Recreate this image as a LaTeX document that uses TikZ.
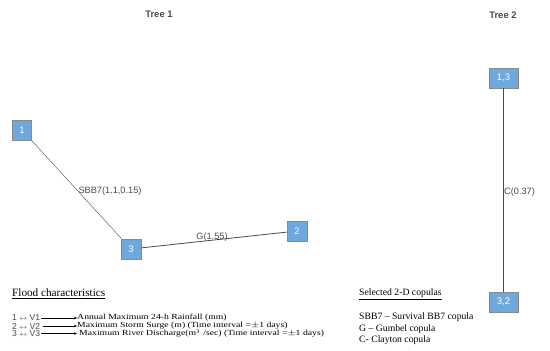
\documentclass[tikz,border=0pt]{standalone}
\usepackage{fontspec}
\setmainfont{Liberation Serif}
\setsansfont{Liberation Sans}
\usetikzlibrary{arrows.meta}
\definecolor{nodefill}{HTML}{6FA8DC}
\definecolor{nodeborder}{HTML}{8A8A8A}
\definecolor{txtgray}{HTML}{4A4A4A}
\tikzset{
  vbox/.style={draw=nodeborder, line width=0.8pt, fill=nodefill, text=white,
    font=\sffamily\fontsize{9.5}{10}\selectfont, minimum height=20pt, inner sep=0pt},
  title/.style={font=\sffamily\bfseries\fontsize{9.5}{11}\selectfont, text=txtgray},
  elabel/.style={font=\sffamily\fontsize{9.2}{10}\selectfont, text=txtgray, inner sep=1pt},
  edge/.style={draw=txtgray, line width=0.6pt},
  legtxt/.style={font=\fontsize{7.8}{8}\selectfont, anchor=west, inner sep=0pt, transform shape, xscale=1.245},
  legkey/.style={font=\sffamily\fontsize{8.6}{9}\selectfont, anchor=west, inner sep=0pt, text=txtgray},
  leghead/.style={anchor=west, inner sep=0pt},
  coptxt/.style={font=\fontsize{9.7}{10}\selectfont, anchor=west, inner sep=0pt},
  legarrow/.style={draw=black, line width=0.4pt, -{Stealth[length=3pt,width=2.5pt]}}
}
\begin{document}
\begin{tikzpicture}[x=1pt,y=-1pt]
\useasboundingbox (0,0) rectangle (550,351);
% titles
\node[title] (t1) at (159,14) {Tree 1};
\node[title] (t2) at (503,15) {Tree 2};
% tree 1 nodes
\node[vbox, minimum width=19pt] (n1) at (22,130) {1};
\node[vbox, minimum width=20pt] (n3) at (131,249) {3};
\node[vbox, minimum width=20pt] (n2) at (297,231) {2};
\draw[edge, line width=0.4pt] (n1) -- (n3);
\draw[edge, line width=0.8pt] (n3) -- (n2);
\node[elabel] (l13) at (110,191) {SBB7(1.1,0.15)};
\node[elabel] (l32) at (212,237) {G(1.55)};
% tree 2 nodes
\node[vbox, minimum width=29pt] (m13) at (503.5,78) {1,3};
\node[vbox, minimum width=29pt] (m32) at (503.5,302) {3,2};
\draw[edge, line width=0.5pt] (m13) -- (m32);
\node[elabel, anchor=west] (lc) at (503,192) {C(0.37)};
% flood legend
\node[leghead, font=\fontsize{11.2}{12}\selectfont] (fh) at (12,294) {\underline{Flood characteristics}};
\node[legkey] (k1) at (12,318) {1 {\scriptsize$\leftrightarrow$} V1};
\node[legkey] (k2) at (12,326) {2 {\scriptsize$\leftrightarrow$} V2};
\node[legkey] (k3) at (12,333.5) {3 {\scriptsize$\leftrightarrow$} V3};
\node[legtxt] (d1) at (77,318) {Annual Maximum 24-h Rainfall (mm)};
\node[legtxt] (d2) at (77,326) {Maximum Storm Surge (m) (Time interval =$\pm$1 days)};
\node[legtxt] (d3) at (79,333.5) {Maximum River Discharge(m\textsuperscript{3}\,\,/sec) (Time interval =$\pm$1 days)};
\draw[legarrow] (k1.east) ++(1,0) coordinate (a1) -- (a1 -| d1.west) ;
\draw[legarrow] (k2.east) ++(3,0) coordinate (a2) -- (a2 -| d1.west);
\draw[legarrow] (k3.east) ++(1,0) coordinate (a3) -- (a3 -| d1.west);
% copula legend
\node[leghead, font=\fontsize{9.7}{11}\selectfont] (ch) at (359,294) {\underline{Selected 2-D copulas}};
\node[coptxt] (c1) at (359,317) {SBB7 -- Survival BB7 copula};
\node[coptxt] (c2) at (359,329) {G -- Gumbel copula};
\node[coptxt] (c3) at (359,340) {C- Clayton copula};
\end{tikzpicture}
\end{document}
